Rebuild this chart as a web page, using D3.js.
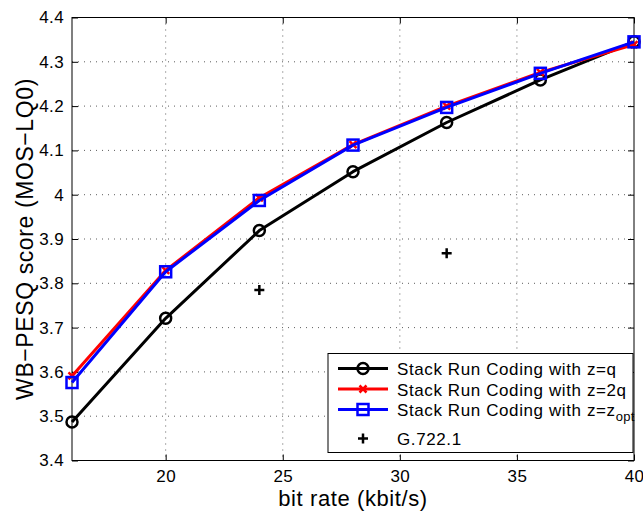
<!DOCTYPE html>
<html>
<head>
<meta charset="utf-8">
<script src="https://cdn.jsdelivr.net/npm/d3@7"></script>
<style>
  body { margin: 0; background: #fff; }
  text { font-family: "Liberation Sans", Arial, sans-serif; }
</style>
</head>
<body>
<svg id="chart"></svg>
<script>
var W = 643, H = 512;

// data
var bitRates = [16, 20, 24, 28, 32, 36, 40];
var srcQ   = [3.487, 3.721, 3.919, 4.052, 4.163, 4.259, 4.345];
var src2Q  = [3.591, 3.829, 3.993, 4.113, 4.200, 4.276, 4.339];
var srcOpt = [3.576, 3.826, 3.987, 4.112, 4.197, 4.274, 4.345];
var g722Rates = [24, 32];
var g722Vals  = [3.785, 3.868];
var xTicks = [20, 25, 30, 35, 40];
var yTicks = [3.4, 3.5, 3.6, 3.7, 3.8, 3.9, 4, 4.1, 4.2, 4.3, 4.4];

var svg = d3.select('#chart').attr('width', W).attr('height', H);

var x = d3.scaleLinear().domain([16, 40]).range([72, 634]);
var y = d3.scaleLinear().domain([3.4, 4.4]).range([460.5, 17.5]);

// dotted grid
var grid = svg.append('g');
xTicks.forEach(function(t){
    if (t === 40) return;
    grid.append('line')
        .attr('x1', x(t)).attr('x2', x(t))
        .attr('y1', y(4.4)).attr('y2', y(3.4))
        .style('stroke', '#333').style('stroke-width', 0.8)
        .style('stroke-dasharray', '1,5');
});
yTicks.forEach(function(t){
    if (t === 3.4 || t === 4.4) return;
    grid.append('line')
        .attr('x1', x(16)).attr('x2', x(40))
        .attr('y1', y(t)).attr('y2', y(t))
        .style('stroke', '#333').style('stroke-width', 0.8)
        .style('stroke-dasharray', '1,5');
});

// axes (ticks pointing inward, mirrored on top/right)
var xAx = svg.append('g').attr('transform', 'translate(0,' + y(3.4) + ')')
    .call(d3.axisBottom(x).tickValues(xTicks).tickSizeInner(-6).tickSizeOuter(0).tickPadding(12).tickFormat(d3.format('d')));
var xAxTop = svg.append('g').attr('transform', 'translate(0,' + y(4.4) + ')')
    .call(d3.axisTop(x).tickValues(xTicks).tickSizeInner(-6).tickSizeOuter(0).tickFormat(''));
var yAx = svg.append('g').attr('transform', 'translate(' + x(16) + ',0)')
    .call(d3.axisLeft(y).tickValues(yTicks).tickSizeInner(-6).tickSizeOuter(0).tickPadding(8).tickFormat(function(d){ return d === 4 ? '4' : d3.format('.1f')(d); }));
var yAxR = svg.append('g').attr('transform', 'translate(' + x(40) + ',0)')
    .call(d3.axisRight(y).tickValues(yTicks).tickSizeInner(-6).tickSizeOuter(0).tickFormat(''));
[xAx, xAxTop, yAx, yAxR].forEach(function(a){
    a.selectAll('path.domain').remove();
    a.selectAll('line').style('stroke', '#000');
    a.selectAll('text').style('font-size', '17px').style('fill', '#000')
        .style('letter-spacing', '0.4px')
        .style('font-family', '"Liberation Sans", Arial, sans-serif');
});
xAx.selectAll('text').attr('dy', null).attr('y', 21);
svg.append('rect')
    .attr('x', x(16)).attr('y', y(4.4))
    .attr('width', x(40) - x(16)).attr('height', y(3.4) - y(4.4))
    .attr('fill', 'none').attr('stroke', '#000').attr('stroke-width', 1);

// axis labels
svg.append('text').attr('x', (x(16) + x(40)) / 2).attr('y', 506)
    .attr('text-anchor', 'middle').style('font-size', '22px').style('letter-spacing', '0.6px')
    .text('bit rate (kbit/s)');
svg.append('text').attr('transform', 'translate(33,' + ((y(3.4) + y(4.4)) / 2) + ') rotate(-90)')
    .attr('text-anchor', 'middle').style('font-size', '23px').style('letter-spacing', '0.6px')
    .text('WB\u2212PESQ score (MOS\u2212LQ0)');

var lineGenerator = d3.line()
    .x(function(d){ return x(d[0]); })
    .y(function(d){ return y(d[1]); });

function drawMarker(g, kind, cx, cy, color){
    if (kind === 'circle') {
        g.append('circle').attr('cx', cx).attr('cy', cy).attr('r', 5.5)
            .attr('fill', 'none').attr('stroke', color).attr('stroke-width', 2.5);
    } else if (kind === 'square') {
        g.append('rect').attr('x', cx - 5.5).attr('y', cy - 5.5).attr('width', 11).attr('height', 11)
            .attr('fill', 'none').attr('stroke', color).attr('stroke-width', 2.5);
    } else if (kind === 'x') {
        g.append('path').attr('d', 'M' + (cx - 3.5) + ',' + (cy - 3.5) + 'L' + (cx + 3.5) + ',' + (cy + 3.5) +
            'M' + (cx - 3.5) + ',' + (cy + 3.5) + 'L' + (cx + 3.5) + ',' + (cy - 3.5))
            .attr('stroke', color).attr('stroke-width', 2.5);
    } else if (kind === 'plus') {
        g.append('path').attr('d', 'M' + (cx - 5) + ',' + cy + 'L' + (cx + 5) + ',' + cy +
            'M' + cx + ',' + (cy - 5) + 'L' + cx + ',' + (cy + 5))
            .attr('stroke', color).attr('stroke-width', 2.5);
    }
}

function drawSeries(vals, color, kind){
    var pts = bitRates.map(function(b, i){ return [b, vals[i]]; });
    var G = svg.append('g');
    G.append('path').attr('d', lineGenerator(pts))
        .attr('fill', 'none').attr('stroke', color).attr('stroke-width', 3)
        .attr('stroke-linejoin', 'round');
    pts.forEach(function(p){ drawMarker(G, kind, x(p[0]), y(p[1]), color); });
}

drawSeries(srcQ, '#000', 'circle');
drawSeries(src2Q, '#ff0000', 'x');
drawSeries(srcOpt, '#0000ff', 'square');

var gG = svg.append('g');
g722Rates.forEach(function(b, i){ drawMarker(gG, 'plus', x(b), y(g722Vals[i]), '#000'); });

// legend
var lg = svg.append('g');
lg.append('rect').attr('x', 328).attr('y', 353.5).attr('width', 305).attr('height', 99)
    .attr('fill', '#fff').attr('stroke', '#000').attr('stroke-width', 1);
var legendRows = [
    { label: 'Stack Run Coding with z=q', color: '#000', kind: 'circle', yy: 368.5, base: 375, line: true },
    { label: 'Stack Run Coding with z=2q', color: '#ff0000', kind: 'x', yy: 389, base: 395.5, line: true },
    { label: 'Stack Run Coding with z=z', sub: 'opt', color: '#0000ff', kind: 'square', yy: 409.5, base: 416, line: true },
    { label: 'G.722.1', color: '#000', kind: 'plus', yy: 438.5, base: 445, line: false }
];
legendRows.forEach(function(r){
    if (r.line) {
        lg.append('line').attr('x1', 338).attr('x2', 388).attr('y1', r.yy).attr('y2', r.yy)
            .attr('stroke', r.color).attr('stroke-width', 3);
    }
    drawMarker(lg, r.kind, 363, r.yy, r.color);
    var t = lg.append('text').attr('x', 397).attr('y', r.base)
        .style('font-size', '17px').style('letter-spacing', '0.6px').text(r.label);
    if (r.sub) {
        t.append('tspan').attr('dy', 5).style('font-size', '13px').style('letter-spacing', '0.3px').text(r.sub);
    }
});
</script>
</body>
</html>
